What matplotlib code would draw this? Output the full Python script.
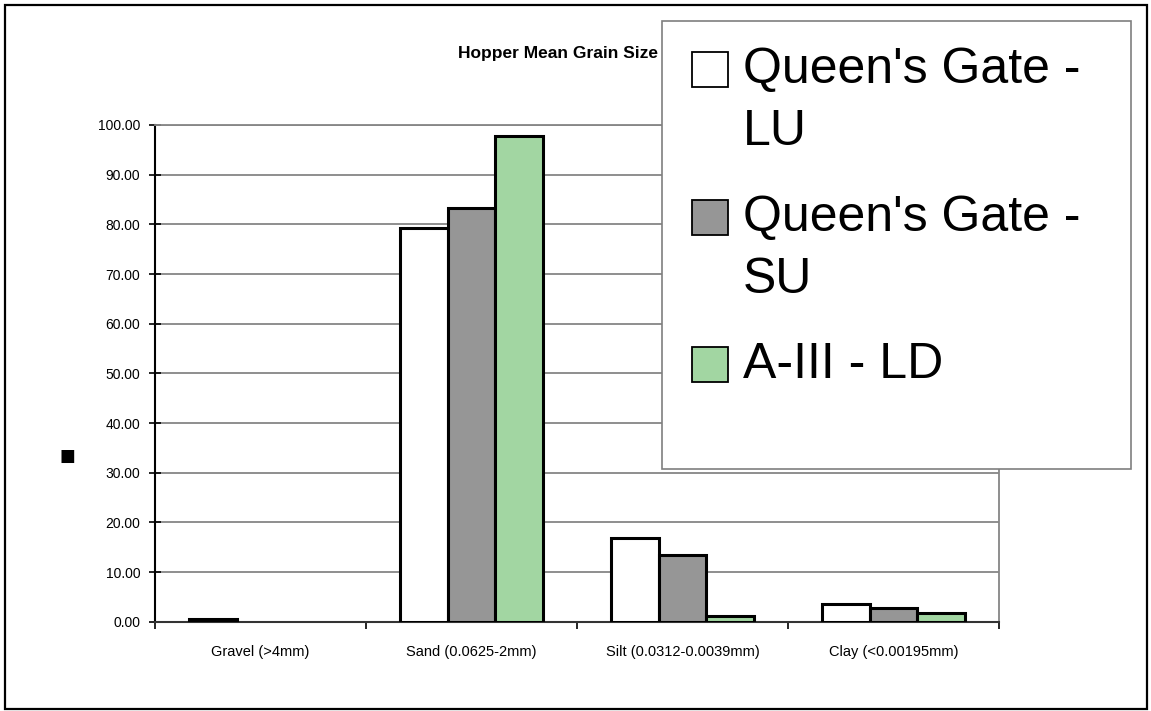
import textwrap
import numpy as np
import matplotlib
matplotlib.use("Agg")
import matplotlib.pyplot as plt
from matplotlib.patches import Rectangle

plt.rcParams['font.family'] = ['Liberation Sans', 'DejaVu Sans']

# data
categories = ['Gravel (>4mm)', 'Sand (0.0625-2mm)', 'Silt (0.0312-0.0039mm)', 'Clay (<0.00195mm)']
series = ["Queen's Gate - LU", "Queen's Gate - SU", "A-III - LD"]
qg_lu = [0.6, 79.3, 16.8, 3.5]
qg_su = [0.0, 83.2, 13.4, 2.7]
a3_ld = [0.0, 97.8, 1.1, 1.8]
yticks = np.arange(0, 101, 10)

colors = ['#ffffff', '#969696', '#a2d6a2']
W, H = 1151, 711

def fx(px):
    return px / W

def fy(py):
    return 1 - py / H

fig = plt.figure(figsize=(W / 100, H / 100), dpi=100)
ax = fig.add_axes([fx(155), fy(621.7), fx(999) - fx(155), fy(125) - fy(621.7)])

x = np.arange(len(categories))
bw = 0.227
for i, (vals, c) in enumerate(zip([qg_lu, qg_su, a3_ld], colors)):
    bars = ax.bar(x + (i - 1) * bw, vals, bw, color=c, edgecolor='black',
                  linewidth=2.2, label=series[i], zorder=3)
    for b, v in zip(bars, vals):
        if v == 0:
            b.set_visible(False)

ax.set_xlim(-0.5, 3.5)
ax.set_ylim(0, 100)
ax.set_yticks(yticks)
ax.set_yticklabels(['%.2f' % v for v in yticks])
ax.yaxis.grid(True, color='#868686', linewidth=1.3)
ax.set_axisbelow(True)
ax.tick_params(axis='y', direction='inout', length=9, width=1.2, labelsize=10, pad=6)

ax.set_xticks(x)
ax.set_xticklabels(categories)
ax.set_xticks(np.arange(-0.5, 3.6, 1), minor=True)
ax.tick_params(axis='x', which='major', length=0, labelsize=10.5, pad=17)
ax.tick_params(axis='x', which='minor', direction='out', length=5, width=1.2)

ax.spines['left'].set_color('black')
ax.spines['left'].set_linewidth(1.5)
ax.spines['bottom'].set_color('#333333')
ax.spines['bottom'].set_linewidth(1.5)
ax.spines['right'].set_color('#868686')
ax.spines['right'].set_linewidth(1.3)
ax.spines['top'].set_color('#868686')
ax.spines['top'].set_linewidth(1.3)

# title and y label (rendered as a box in the original)
fig.text(fx(458), fy(58), 'Hopper Mean Grain Size', fontsize=12.5, fontweight='bold',
         ha='left', va='baseline', zorder=3)
fig.text(fx(67), fy(456), '\u25a0', fontsize=12, family='DejaVu Sans',
         ha='center', va='center')

# outer chart frame
fig.patches.append(Rectangle((fx(5), fy(709)), fx(1147) - fx(5), fy(5) - fy(709),
                             transform=fig.transFigure, fill=False,
                             edgecolor='black', linewidth=1.6, zorder=1))

# legend box
fig.patches.append(Rectangle((fx(662), fy(469)), fx(1131) - fx(662), fy(21) - fy(469),
                             transform=fig.transFigure, facecolor='white',
                             edgecolor='#7f7f7f', linewidth=1.2, zorder=5))
entry_top = [52, 200, 347]
for name, c, top in zip(series, colors, entry_top):
    fig.patches.append(Rectangle((fx(692), fy(top + 35)), fx(728) - fx(692), fy(top) - fy(top + 35),
                                 transform=fig.transFigure, facecolor=c,
                                 edgecolor='black', linewidth=1.3, zorder=6))
    for k, line in enumerate(textwrap.wrap(name, 14)):
        fig.text(fx(743), fy(top + 31 + 62 * k), line, fontsize=36,
                 ha='left', va='baseline', zorder=7)

fig.savefig('out.png', dpi=100)
